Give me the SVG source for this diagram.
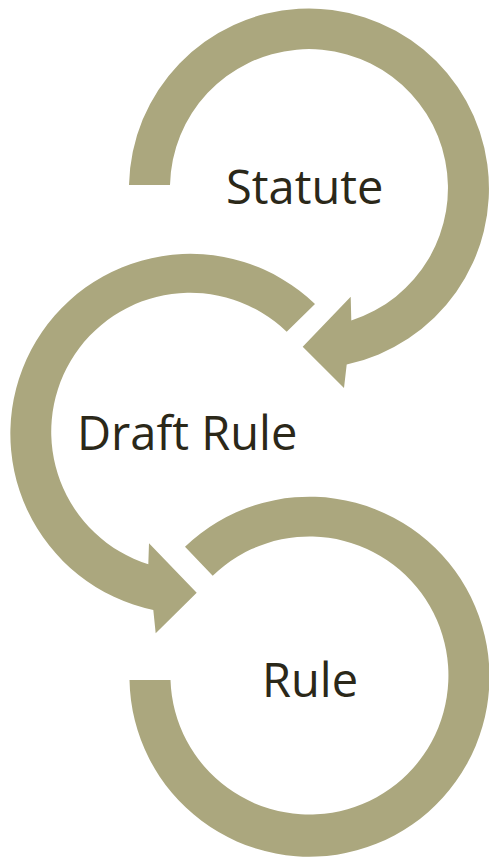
<svg xmlns="http://www.w3.org/2000/svg" width="489" height="861" viewBox="0 0 489 861">
<style>
.arc{fill:#aba77e;}
.lbl{font-family:"Open Sans","Liberation Sans",sans-serif;font-size:47px;fill:#2b2819;}
</style>
<rect width="489" height="861" fill="#ffffff"/>
<g id="connectors">
<path id="arc-statute" class="arc" d="M129,185 A180,180 0 1 1 346.7,364.5 L344,388 L302.7,346.7 L350.7,296.7 L351.3,320.5 A139,139 0 1 0 170,185 Z"/>
<path id="arc-draft" class="arc" d="M315,304 A180,180 0 1 0 153.3,610 L155.7,633.3 L196.7,592.7 L149,543.3 L148.3,564.3 A139,139 0 1 1 286.7,331.7 Z"/>
<path id="arc-rule" class="arc" d="M185,546.7 A180,180 0 1 1 129.5,680 L170.5,680 A139,139 0 1 0 212.7,575.7 Z"/>
</g>
<g id="node-statute"><text class="lbl" x="226" y="204">Statute</text></g>
<g id="node-draft-rule"><text class="lbl" x="77" y="450">Draft Rule</text></g>
<g id="node-rule"><text class="lbl" x="262" y="697">Rule</text></g>
</svg>
